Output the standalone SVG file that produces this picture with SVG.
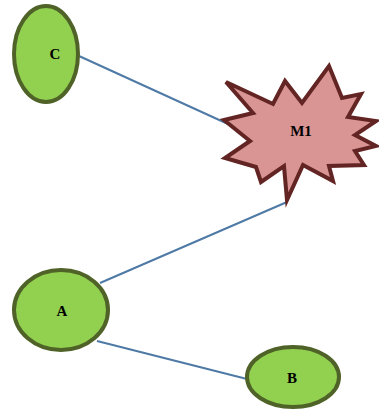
<svg xmlns="http://www.w3.org/2000/svg" width="379" height="414" viewBox="0 0 379 414">
<style>
.ell{fill:#92d050;stroke:#4f6228;stroke-width:4}
.star{fill:#d99594;stroke:#632523;stroke-width:4;stroke-linejoin:miter;stroke-miterlimit:4}
.lbl{font-family:"Liberation Serif",serif;font-weight:bold;font-size:15px;text-anchor:middle;fill:#000}
.edge{stroke:#4f7aa6;stroke-width:2;fill:none}
</style>
<rect width="379" height="414" fill="#fff"/>
<g id="connectors">
<line class="edge" x1="79" y1="56" x2="228" y2="124"/>
<line class="edge" x1="287" y1="202" x2="100" y2="283"/>
<line class="edge" x1="97" y1="341" x2="247" y2="379"/>
</g>
<g id="C">
<ellipse class="ell" cx="46" cy="54" rx="32" ry="48"/>
<text class="lbl" x="55" y="59">C</text>
</g>
<g id="M1">
<polygon class="star" points="226,82 273,104 285,81 302,103 329,66 342,98 361,94 348,117 376,121 355,135 376,146 355,151 364,165 329,166 333,181 303,165 287,200 284,166 261,182 256,167 225,158 250,141 224,120 253,113"/>
<text class="lbl" x="301" y="136">M1</text>
</g>
<g id="A">
<ellipse class="ell" cx="61" cy="310" rx="47" ry="40"/>
<text class="lbl" x="62" y="316">A</text>
</g>
<g id="B">
<ellipse class="ell" cx="293" cy="377" rx="46" ry="30"/>
<text class="lbl" x="292" y="383">B</text>
</g>
</svg>
